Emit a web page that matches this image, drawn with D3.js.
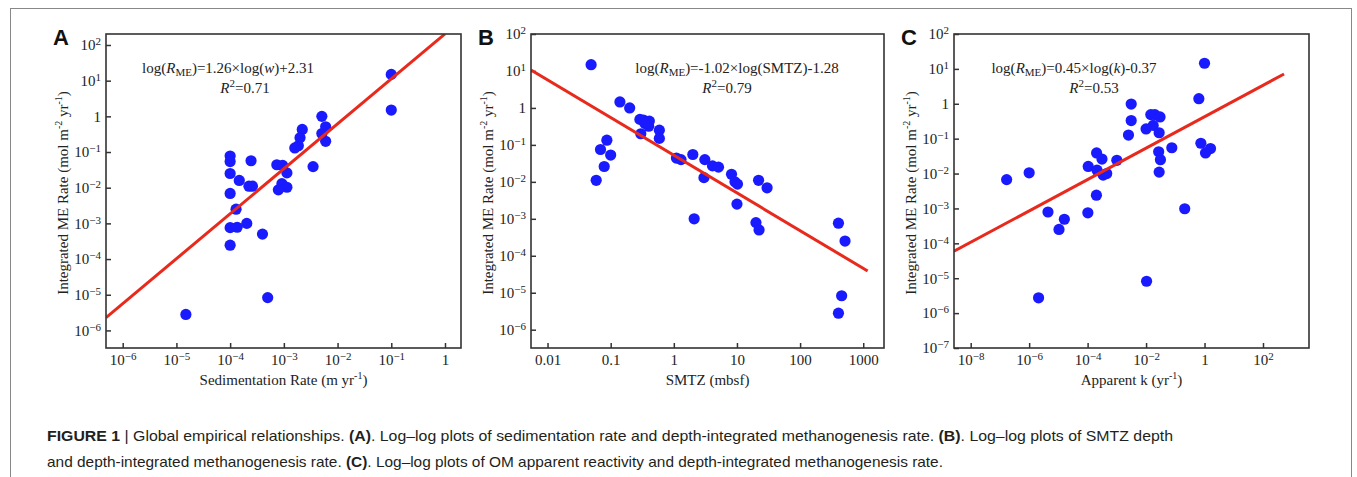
<!DOCTYPE html>
<html>
<head>
<meta charset="utf-8">
<script src="https://cdn.jsdelivr.net/npm/d3@7"></script>
<style>
body { margin: 0; background: #fff; }
svg { display: block; }
</style>
</head>
<body>
<div id="main"></div>
<script>
// panel A: sedimentation rate vs integrated ME rate
const sedRate = [0.1, 0.1, 0.0051, 0.006, 0.0051, 0.006, 0.0022, 0.002, 0.00186, 0.0016, 0.0035,
    0.00074, 0.00095, 0.00114, 0.00092, 0.00114, 0.00079, 1e-4, 1e-4, 1e-4, 1e-4, 0.000245,
    0.000148, 0.000224, 0.00026, 0.000129, 1e-4, 0.000135, 0.000204, 1e-4, 0.0004, 0.0005, 1.5e-5];
const meRateA = [15, 1.5, 1.0, 0.51, 0.33, 0.2, 0.43, 0.25, 0.15, 0.13, 0.039,
    0.044, 0.042, 0.026, 0.013, 0.0103, 0.0087, 0.077, 0.054, 0.025, 0.0069, 0.057,
    0.016, 0.011, 0.011, 0.0025, 0.00076, 0.00078, 0.001, 0.000245, 0.0005, 8.3e-6, 2.8e-6];

// panel B: SMTZ depth vs integrated ME rate
const smtzDepth = [0.049, 0.14, 0.2, 0.29, 0.33, 0.41, 0.40, 0.35, 0.30, 0.59, 0.59, 0.087,
    0.069, 0.1, 0.079, 0.059, 1.1, 1.3, 2.0, 3.1, 3.0, 4.1, 5.1, 8.2, 9.3, 10.2, 10, 2.1,
    22, 30, 20, 22.4, 405, 515, 455, 405];
const meRateB = [14.8, 1.45, 1.0, 0.49, 0.47, 0.44, 0.32, 0.38, 0.2, 0.25, 0.15, 0.134,
    0.075, 0.053, 0.026, 0.011, 0.044, 0.04, 0.055, 0.04, 0.013, 0.027, 0.025, 0.016, 0.01, 0.0087, 0.0025, 0.001,
    0.011, 0.0069, 0.00079, 0.0005, 0.00076, 0.00025, 8.3e-6, 2.8e-6];

// panel C: apparent k vs integrated ME rate
const apparentK = [1.0, 0.64, 0.75, 1.08, 1.6, 0.076, 0.21, 0.0104, 0.0031, 0.0031, 0.0025,
    0.0145, 0.02, 0.03, 0.0175, 0.01, 0.028, 0.027, 0.031, 0.028, 0.001, 0.000203, 0.00031,
    0.000105, 0.00021, 0.00034, 0.00045, 0.0002, 0.000102, 1e-6, 1.7e-7, 4.4e-6, 1.6e-5, 1.05e-5, 2.1e-6];
const meRateC = [14.5, 1.4, 0.074, 0.039, 0.052, 0.055, 0.00098, 8.2e-6, 0.98, 0.33, 0.127,
    0.49, 0.49, 0.42, 0.24, 0.19, 0.148, 0.042, 0.025, 0.011, 0.024, 0.039, 0.026,
    0.016, 0.0125, 0.009, 0.01, 0.0024, 0.00075, 0.0105, 0.0067, 0.00079, 0.00049, 0.00025, 2.75e-6];

// ticks
const xTicksA = [1e-6, 1e-5, 1e-4, 1e-3, 1e-2, 1e-1, 1];
const xTicksB = [0.01, 0.1, 1, 10, 100, 1000];
const xTickLabelsB = ['0.01', '0.1', '1', '10', '100', '1000'];
const xTicksC = [1e-8, 1e-6, 1e-4, 1e-2, 1, 1e2];
const yTicksAB = [1e2, 1e1, 1, 1e-1, 1e-2, 1e-3, 1e-4, 1e-5, 1e-6];
const yTicksC = [1e2, 1e1, 1, 1e-1, 1e-2, 1e-3, 1e-4, 1e-5, 1e-6, 1e-7];

// axis extents (log10)
const xExtents = [[-6.311, 0.298], [-2.262, 3.329], [-8.571, 3.574]];
const yExtents = [[-6.493, 2.308], [-6.495, 2.0], [-7, 2]];

// regression fits: log(R) = slope*log(x) + intercept
const fitSlopes = [1.26, -1.02, 0.45];
const fitIntercepts = [2.31, -1.28, -0.37];
const fitXRange = [[-6.311, 0.0], [-2.262, 3.07], [-8.571, 2.72]];
const fitEquations = [['1.26', 'w', '+2.31'], ['-1.02', 'SMTZ', '-1.28'], ['0.45', 'k', '-0.37']];
const fitR2 = ['0.71', '0.79', '0.53'];

const panelLetters = ['A', 'B', 'C'];
const xTitles = [['Sedimentation Rate (m yr', '-1', ')'], ['SMTZ (mbsf)'], ['Apparent k (yr', '-1', ')']];

const width = 1357, height = 477;
const frames = [
    { left: 106, right: 461 },
    { left: 531, right: 884 },
    { left: 954, right: 1309 }
];
const plotTop = 34, plotBottom = 348;
const eqCenters = [[228, 245], [737, 727], [1074, 1094]];

const svg = d3.select('#main').append('svg').attr('width', width).attr('height', height);

// outer figure border
svg.append('rect')
    .attr('x', 10.5).attr('y', 8.5)
    .attr('width', 1341).attr('height', 500)
    .attr('fill', 'none').attr('stroke', '#888').attr('stroke-width', 1);

const serif = '"Liberation Serif", "Times New Roman", serif';

function powLabel(text, v) {
    const e = Math.round(Math.log10(v));
    text.text(null);
    if (e === 0) { text.text('1'); return; }
    text.append('tspan').text('10');
    text.append('tspan')
        .attr('dy', '-0.45em')
        .attr('font-size', '11px')
        .text(e < 0 ? '\u2212' + (-e) : e);
}

const panelData = [
    { xs: sedRate, ys: meRateA, xTicks: xTicksA, yTicks: yTicksAB },
    { xs: smtzDepth, ys: meRateB, xTicks: xTicksB, yTicks: yTicksAB, xLabels: xTickLabelsB },
    { xs: apparentK, ys: meRateC, xTicks: xTicksC, yTicks: yTicksC }
];

function drawPanel(i) {
    const p = panelData[i];
    const f = frames[i];
    const x = d3.scaleLog()
        .domain(xExtents[i].map(d => Math.pow(10, d)))
        .range([f.left, f.right]);
    const y = d3.scaleLog()
        .domain(yExtents[i].map(d => Math.pow(10, d)))
        .range([plotBottom, plotTop]);

    const g = svg.append('g');

    g.append('clipPath').attr('id', 'clip' + i)
        .append('rect')
        .attr('x', f.left).attr('y', plotTop)
        .attr('width', f.right - f.left).attr('height', plotBottom - plotTop);

    // axes
    const xAxis = g.append('g')
        .attr('transform', `translate(0,${plotBottom})`)
        .call(d3.axisBottom(x).tickValues(p.xTicks).tickSizeInner(-5).tickSizeOuter(0).tickPadding(6));
    const yAxis = g.append('g')
        .attr('transform', `translate(${f.left},0)`)
        .call(d3.axisLeft(y).tickValues(p.yTicks).tickSizeInner(-5).tickSizeOuter(0).tickPadding(5));

    [xAxis, yAxis].forEach(a => {
        a.attr('font-family', serif).attr('font-size', 15);
        a.select('.domain').remove();
        a.selectAll('.tick line').attr('stroke', '#333').attr('stroke-width', 1.5);
        a.selectAll('.tick text').attr('fill', '#222');
    });

    if (p.xLabels) {
        xAxis.selectAll('.tick text').text((d, j) => p.xLabels[j]);
    } else {
        xAxis.selectAll('.tick text').each(function(d) { powLabel(d3.select(this), d); });
    }
    yAxis.selectAll('.tick text').each(function(d) { powLabel(d3.select(this), d); });

    // points
    g.append('g').selectAll('circle')
        .data(p.xs.map((v, j) => [v, p.ys[j]]))
        .enter()
        .append('circle')
            .attr('cx', d => x(d[0]))
            .attr('cy', d => y(d[1]))
            .attr('r', 5.6)
            .style('fill', '#1a1aff');

    // fit line
    const fitPts = fitXRange[i].map(lx => [Math.pow(10, lx), Math.pow(10, fitSlopes[i] * lx + fitIntercepts[i])]);
    g.append('path')
        .attr('clip-path', `url(#clip${i})`)
        .attr('d', d3.line().x(d => x(d[0])).y(d => y(d[1]))(fitPts))
        .attr('fill', 'none')
        .attr('stroke', '#e8291c')
        .attr('stroke-width', 3);

    // frame
    g.append('rect')
        .attr('x', f.left).attr('y', plotTop)
        .attr('width', f.right - f.left).attr('height', plotBottom - plotTop)
        .attr('fill', 'none').attr('stroke', '#333').attr('stroke-width', 1.6);

    // equation
    const eq = g.append('text')
        .attr('x', eqCenters[i][0]).attr('y', 73)
        .attr('text-anchor', 'middle')
        .attr('font-family', serif).attr('font-size', 15).attr('fill', '#222');
    eq.append('tspan').text('log(');
    eq.append('tspan').attr('font-style', 'italic').text('R');
    eq.append('tspan').attr('font-size', 11).attr('dy', 3).text('ME');
    eq.append('tspan').attr('dy', -3).text(')=' + fitEquations[i][0] + '\u00d7log(');
    eq.append('tspan').attr('font-style', fitEquations[i][1] === 'SMTZ' ? 'normal' : 'italic').text(fitEquations[i][1]);
    eq.append('tspan').text(')' + fitEquations[i][2]);

    const r2 = g.append('text')
        .attr('x', eqCenters[i][1]).attr('y', 93)
        .attr('text-anchor', 'middle')
        .attr('font-family', serif).attr('font-size', 15).attr('fill', '#222');
    r2.append('tspan').attr('font-style', 'italic').text('R');
    r2.append('tspan').attr('font-size', 11).attr('dy', -6).text('2');
    r2.append('tspan').attr('dy', 6).text('=' + fitR2[i]);

    // x title
    const cx = (f.left + f.right) / 2;
    const xt = g.append('text')
        .attr('x', cx).attr('y', 385)
        .attr('text-anchor', 'middle')
        .attr('font-family', serif).attr('font-size', 15).attr('fill', '#222');
    xt.append('tspan').text(xTitles[i][0]);
    if (xTitles[i].length > 1) {
        xt.append('tspan').attr('font-size', 10).attr('dy', -6).text(xTitles[i][1]);
        xt.append('tspan').attr('dy', 6).text(xTitles[i][2]);
    }

    // y title
    const yx = f.left - 38, yy = (plotTop + plotBottom) / 2 + 2;
    const yt = g.append('text')
        .attr('transform', `translate(${yx},${yy}) rotate(-90)`)
        .attr('text-anchor', 'middle')
        .attr('font-family', serif).attr('font-size', 15).attr('fill', '#222');
    yt.append('tspan').text('Integrated ME Rate (mol m');
    yt.append('tspan').attr('font-size', 10).attr('dy', -6).text('-2');
    yt.append('tspan').attr('dy', 6).text(' yr');
    yt.append('tspan').attr('font-size', 10).attr('dy', -6).text('-1');
    yt.append('tspan').attr('dy', 6).text(')');

    // panel letter
    svg.append('text')
        .attr('x', f.left - 53).attr('y', 45)
        .attr('font-family', '"Liberation Sans", Arial, sans-serif')
        .attr('font-weight', 'bold').attr('font-size', 22)
        .attr('fill', '#111')
        .text(panelLetters[i]);
}

[0, 1, 2].forEach(drawPanel);

// caption
const capFont = '"Liberation Sans Narrow", "Liberation Sans", Arial, sans-serif';
const cap1 = svg.append('text')
    .attr('x', 47).attr('y', 441)
    .attr('font-family', capFont).attr('font-size', 15).attr('fill', '#231f20')
    .attr('textLength', 1126).attr('lengthAdjust', 'spacingAndGlyphs');
cap1.append('tspan').attr('font-weight', 'bold').text('FIGURE 1');
cap1.append('tspan').text(' | Global empirical relationships. ');
cap1.append('tspan').attr('font-weight', 'bold').text('(A)');
cap1.append('tspan').text('. Log\u2013log plots of sedimentation rate and depth-integrated methanogenesis rate. ');
cap1.append('tspan').attr('font-weight', 'bold').text('(B)');
cap1.append('tspan').text('. Log\u2013log plots of SMTZ depth');

const cap2 = svg.append('text')
    .attr('x', 47).attr('y', 467)
    .attr('font-family', capFont).attr('font-size', 15).attr('fill', '#231f20')
    .attr('textLength', 896).attr('lengthAdjust', 'spacingAndGlyphs');
cap2.append('tspan').text('and depth-integrated methanogenesis rate. ');
cap2.append('tspan').attr('font-weight', 'bold').text('(C)');
cap2.append('tspan').text('. Log\u2013log plots of OM apparent reactivity and depth-integrated methanogenesis rate.');
</script>
</body>
</html>
